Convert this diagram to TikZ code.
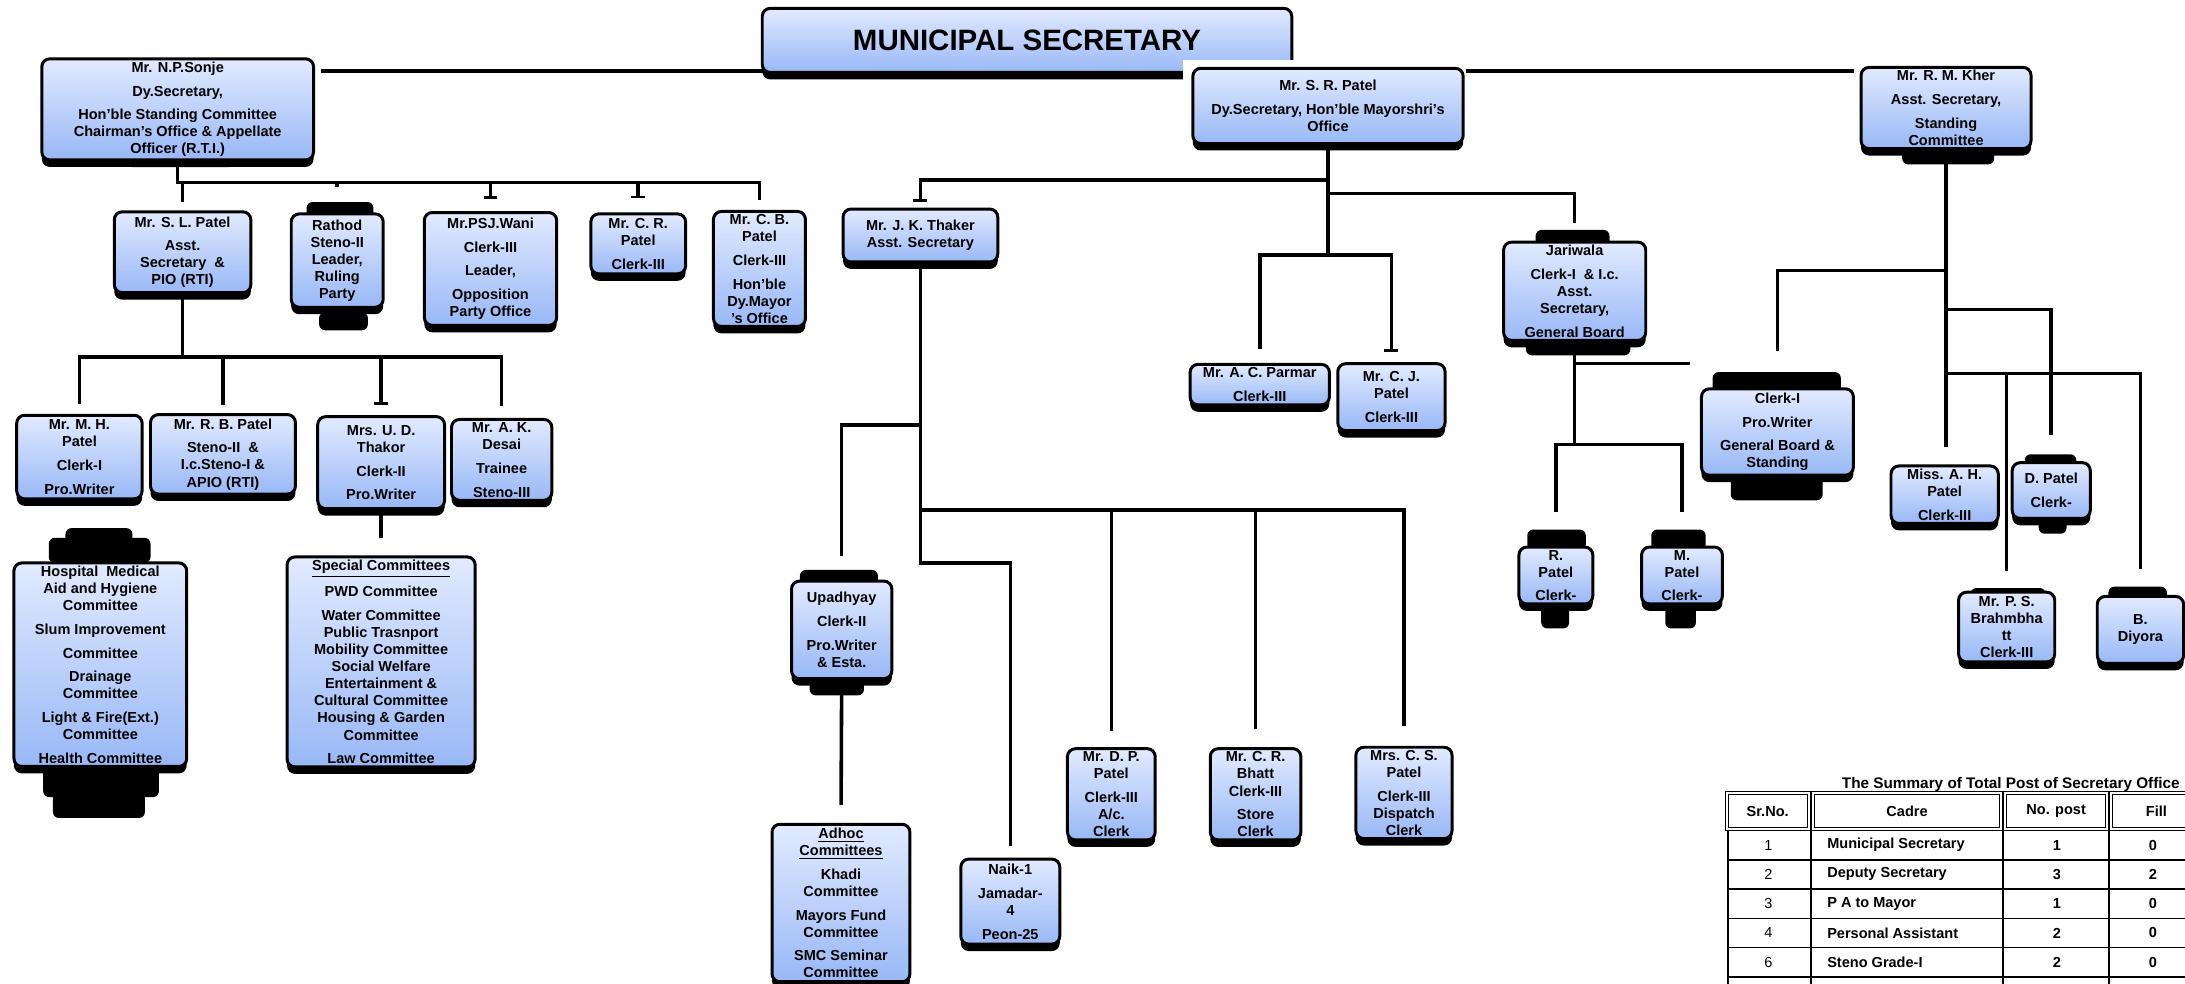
\documentclass[tikz,border=0pt]{standalone}
\usepackage{fontspec}
\setmainfont{Liberation Sans}
\usetikzlibrary{shadows,arrows.meta,backgrounds}
\definecolor{boxtop}{RGB}{226,234,255}
\definecolor{boxbot}{RGB}{152,184,246}

\tikzset{
	post/.style={draw=black, line width=1.5pt, rounded corners=4pt,
		top color=boxtop, bottom color=boxbot, align=center,
		inner xsep=1pt, inner ysep=1.5pt,
		font=\bfseries\fontsize{7.3}{8.6}\selectfont,
		drop shadow={shadow xshift=0pt, shadow yshift=-3.5pt, fill=black, opacity=1}},
	wh/.style 2 args={minimum width=#1*0.7pt, minimum height=#2*0.7pt},
	link/.style={line width=1.8pt},
	teelink/.style={link, -{Bar[width=7pt, line width=1.4pt]}},
	blob/.style={fill=black, rounded corners=3pt},
	cell/.style={font=\bfseries\fontsize{7.3}{8.6}\selectfont, inner sep=0pt}
}
\newcommand{\pgap}{\\[3.3pt]}

\begin{document}
\begin{tikzpicture}[x=0.7pt, y=-0.7pt]
	\useasboundingbox (0,0) rectangle (1568,706);
	
	% heads
	\node[post, wh={380}{46}, font=\bfseries\fontsize{14.8}{16}\selectfont] (ms) at (737,29) {MUNICIPAL SECRETARY};
	\node[post, wh={195}{63}] (sonje) at (127.5,78.5) {Mr. N.P.Sonje\pgap Dy.Secretary,\pgap Hon'ble Standing Committee\\ Chairman's Office \& Appellate\\ Officer (R.T.I.)};
	\fill[white] (849,43) rectangle (1052,60);
	\node[post, wh={194}{54}] (srp) at (953,76) {Mr. S. R. Patel\pgap Dy.Secretary, Hon'ble Mayorshri's\\ Office};
	\node[post, wh={122}{57}] (kher) at (1396.5,77.5) {Mr. R. M. Kher\pgap Asst. Secretary,\pgap Standing\\ Committee};
	
	% under N.P. Sonje
	\node[post, wh={98}{58}] (slp) at (131,181) {Mr. S. L. Patel\pgap Asst.\\ Secretary \ \&\\ PIO (RTI)};
	\node[post, wh={66}{67}] (rathod) at (242,187) {Rathod\\ Steno-II\\ Leader,\\ Ruling\\ Party};
	\node[post, wh={95}{81}] (wani) at (352,193) {Mr.PSJ.Wani\pgap Clerk-III\pgap Leader,\pgap Opposition\\ Party Office};
	\node[post, wh={68}{43}] (crp) at (458,175) {Mr. C. R.\\ Patel\pgap Clerk-III};
	\node[post, wh={66}{82}] (cbp) at (545,193) {Mr. C. B.\\ Patel\pgap Clerk-III\pgap Hon'ble\\ Dy.Mayor\\ 's Office};
	
	\node[post, wh={90}{60}] (mhp) at (57,328) {Mr. M. H.\\ Patel\pgap Clerk-I\pgap Pro.Writer};
	\node[post, wh={104}{57}] (rbp) at (160,326) {Mr. R. B. Patel\pgap Steno-II \ \&\\ I.c.Steno-I \&\\ APIO (RTI)};
	\node[post, wh={91}{66}] (udt) at (273.5,332) {Mrs. U. D.\\ Thakor\pgap Clerk-II\pgap Pro.Writer};
	\node[post, wh={72}{58}] (akd) at (360,330) {Mr. A. K.\\ Desai\pgap Trainee\pgap Steno-III};
	
	\node[post, wh={124}{145}] (comm) at (72,477) {Hospital \ Medical\\ Aid and Hygiene\\ Committee\pgap Slum Improvement\pgap Committee\pgap Drainage\\ Committee\pgap Light \& Fire(Ext.)\\ Committee\pgap Health Committee};
	\node[post, wh={135}{143}] (special) at (273.5,475) {\underline{Special Committees}\pgap PWD Committee\pgap Water Committee\\ Public Trasnport\\ Mobility Committee\\ Social Welfare\\ Entertainment \&\\ Cultural Committee\\ Housing \& Garden\\ Committee\pgap Law Committee};
	
	% under S.R. Patel
	\node[post, wh={111}{38}] (thaker) at (660.5,169) {Mr. J. K. Thaker\\ Asst. Secretary};
	\node[post, wh={100}{29}] (parmar) at (904,276) {Mr. A. C. Parmar\pgap Clerk-III};
	\node[post, wh={77}{48}] (cjp) at (998.5,285) {Mr. C. J.\\ Patel\pgap Clerk-III};
	\node[post, wh={102}{70}] (jariwala) at (1130,209) {Jariwala\pgap Clerk-I \ \& I.c.\\ Asst.\\ Secretary,\pgap General Board};
	\node[post, wh={53}{40}] (rpatel) at (1116.5,413) {R.\\ Patel\pgap Clerk-};
	\node[post, wh={58}{40}] (mpatel) at (1207,413) {M.\\ Patel\pgap Clerk-};
	
	\node[post, wh={72}{70}] (upadhyay) at (604,452) {Upadhyay\pgap Clerk-II\pgap Pro.Writer\\ \& Esta.};
	\node[post, wh={99}{113}] (adhoc) at (603.5,648) {\underline{Adhoc}\\ \underline{Committees}\pgap Khadi\\ Committee\pgap Mayors Fund\\ Committee\pgap SMC Seminar\\ Committee};
	\node[post, wh={71}{61}] (naik) at (725,647) {Naik-1\pgap Jamadar-\\ 4\pgap Peon-25};
	\node[post, wh={63}{62}] (dpp) at (797.5,570) {Mr. D. P.\\ Patel\pgap Clerk-III\\ A/c.\\ Clerk};
	\node[post, wh={65}{63}] (crb) at (901,570) {Mr. C. R.\\ Bhatt\\ Clerk-III\pgap Store\\ Clerk};
	\node[post, wh={69}{60}] (csp) at (1007.5,569) {Mrs. C. S.\\ Patel\pgap Clerk-III\\ Dispatch\\ Clerk};
	
	% under R.M. Kher
	\node[post, wh={109}{62}] (general) at (1275.5,310) {Clerk-I\pgap Pro.Writer\pgap General Board \&\\ Standing};
	\node[post, wh={77}{38}] (ahp) at (1395.5,355) {Miss. A. H.\\ Patel\pgap Clerk-III};
	\node[post, wh={56}{40}] (dpatel) at (1472,352) {D. Patel\pgap Clerk-};
	\node[post, wh={69}{50}] (brahm) at (1440,450) {Mr. P. S.\\ Brahmbha\\ tt\\ Clerk-III};
	\node[post, wh={62}{48}] (diyora) at (1536,452) {B.\\ Diyora};
	
	% bus heights
	\coordinate (topbus) at (0,51);
	\coordinate (busA) at (0,131);
	\coordinate (busB) at (0,256);
	\coordinate (busC) at (0,129);
	\coordinate (busD) at (0,139);
	\coordinate (busE) at (0,183);
	\coordinate (busF) at (0,319);
	\coordinate (busG) at (0,261);
	\coordinate (busH) at (0,194);
	\coordinate (busI) at (0,222);
	\coordinate (busJ) at (0,268);
	\coordinate (busK) at (0,305);
	\coordinate (busL) at (0,366);
	\coordinate (busM) at (0,404);
	
	\begin{scope}[on background layer]
		\draw[link, shorten <=3pt, shorten >=3pt] (sonje.east |- topbus) -- (kher.west |- topbus);
		
		\draw[link, shorten >=4pt] (sonje.south) -- (sonje.south |- busA) -| (slp.north);
		\draw[link, shorten >=13pt] (sonje.south |- busA) -| (rathod.north);
		\draw[teelink, shorten >=6pt] (sonje.south |- busA) -| (wani.north);
		\draw[teelink, shorten >=7pt] (sonje.south |- busA) -| (crp.north);
		\draw[link, shorten >=5pt] (sonje.south |- busA) -| (cbp.north);
		
		\draw[link, shorten >=5pt] (slp.south) -- (slp.south |- busB) -| (mhp.north);
		\draw[link, shorten >=4pt] (slp.south |- busB) -| (rbp.north);
		\draw[teelink, shorten >=5pt] (slp.south |- busB) -| (udt.north);
		\draw[link, shorten >=6pt] (slp.south |- busB) -| (akd.north);
		\draw[link, shorten >=9pt] (udt.south) -- (special.north);
		
		\draw[teelink, shorten >=3pt] (srp.south) -- (srp.south |- busC) -| (thaker.north);
		\draw[link, shorten >=9pt] (srp.south) -- (srp.south |- busD) -| (jariwala.north);
		\draw[link, shorten >=7pt] (srp.south) -- (srp.south |- busE) -| (parmar.north);
		\draw[teelink, shorten >=5pt] (srp.south |- busE) -| (cjp.north);
		
		\draw[link, shorten >=17pt] (jariwala.south) -- (jariwala.south |- busF) -| (rpatel.north);
		\draw[link, shorten >=17pt] (jariwala.south |- busF) -| (mpatel.north);
		\draw[link, shorten >=5pt] (jariwala.south |- busG) -- (general.west |- busG);
		
		\draw[link, shorten >=12pt] (thaker.south) -- (thaker.south |- busK) -| (upadhyay.north);
		\draw[link, shorten >=8pt] (thaker.south) -- (thaker.south |- busL) -| (dpp.north);
		\draw[link, shorten >=9pt] (thaker.south |- busL) -| (crb.north);
		\draw[link, shorten >=10pt] (thaker.south |- busL) -| (csp.north);
		\draw[link, shorten >=6pt] (thaker.south) -- (thaker.south |- busM) -| (naik.north);
		\draw[link, shorten >=9pt] (upadhyay.south) -- (adhoc.north);
		
		\draw[link, shorten >=18pt] (kher.south) -- (kher.south |- busH) -| (general.north);
		\draw[link, shorten >=13pt] (kher.south) -- (kher.south |- busI) -| (dpatel.north);
		\draw[link, shorten >=9pt] (kher.south) -- (kher.south |- ahp.north);
		\draw[link, shorten >=10pt] (kher.south) -- (kher.south |- busJ) -| (brahm.north);
		\draw[link, shorten >=13pt] (kher.south |- busJ) -| (diyora.north);
		
		% black smudges of text running out of the boxes
		\foreach \xa/\ya/\xb/\yb in {91/108/168/120, 1365/104/1431/118, 220/145/268/158, 229/224/264/237,
			1102/165/1155/180, 1095/242/1170/255, 1229/267/1321/285, 1242/340/1308/359,
			1096/380/1138/395, 1106/434/1126/451, 1185/380/1224/395, 1195/434/1217/451,
			1453/326/1490/337, 1463/372/1483/383, 1414/422/1468/431, 1513/421/1555/432,
			574/409/630/420, 581/485/620/499,
			47/379/95/392, 35/386/108/404, 31/550/114/572, 38/565/104/587}
			\fill[blob] (\xa,\ya) rectangle (\xb,\yb);
	\end{scope}
	
	% summary table
	\node[cell, font=\bfseries\fontsize{7.7}{8}\selectfont] (sumtitle) at (1443,563) {The Summary of Total Post of Secretary Office};
	\foreach \xa/\xb/\txt [count=\i] in {1239/1298/Sr.No., 1301/1436/Cadre, 1439/1512/No. post, 1515/1580/Fill}{
		\draw[double, double distance=1pt, line width=0.5pt] (\xa,569) rectangle (\xb,595);
		\node[cell] (head\i) at ({(\xa+\xb)/2},582) {\txt};
	}
	\foreach \y in {617,638,659,680,701}
		\draw[line width=0.8pt] (1240,\y) -- (1580,\y);
	\foreach \x in {1240,1299.5,1437.5,1513.5}
		\draw[line width=0.8pt] (\x,596) -- (\x,710);
	\foreach \n/\cad/\np/\fl [count=\i] in {1/Municipal Secretary/1/0, 2/Deputy Secretary/3/2, 3/P A to Mayor/1/0, 4/Personal Assistant/2/0, 6/Steno Grade-I/2/0}{
		\node[cell, font=\fontsize{7.3}{8.6}\selectfont] (sr\i) at (1269,{585.5+21*\i}) {\n};
		\node[cell, anchor=west] (cadre\i) at (1311,{585.5+21*\i}) {\cad};
		\node[cell] (post\i) at (1476,{585.5+21*\i}) {\np};
		\node[cell] (filled\i) at (1545,{585.5+21*\i}) {\fl};
	}
\end{tikzpicture}
\end{document}
